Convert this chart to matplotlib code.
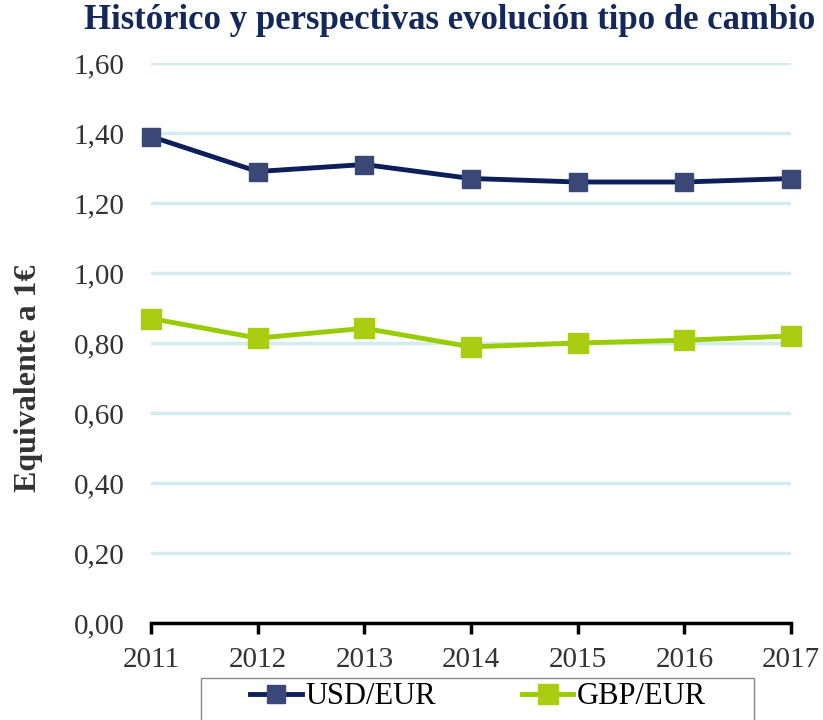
import matplotlib
matplotlib.use("Agg")
import matplotlib.pyplot as plt
from matplotlib.patches import Rectangle

# === Data ===
years = [2011, 2012, 2013, 2014, 2015, 2016, 2017]
usd_eur = [1.39, 1.29, 1.31, 1.27, 1.26, 1.26, 1.27]
gbp_eur = [0.87, 0.814, 0.842, 0.789, 0.80, 0.808, 0.82]
yticks = [0.0, 0.2, 0.4, 0.6, 0.8, 1.0, 1.2, 1.4, 1.6]

plt.rcParams['font.family'] = ['Liberation Serif', 'DejaVu Serif']

fig = plt.figure(figsize=(8.23, 7.2), dpi=100)
ax = fig.add_axes([151/823, 1 - 623/720, 640/823, 560/720])

ax.plot(years, usd_eur, color="#0d1f5a", lw=3.5, marker="s", ms=13,
        mfc="#3a4878", mec="#3a4878", label="USD/EUR", zorder=3, clip_on=False)
ax.plot(years, gbp_eur, color="#99cc00", lw=3.5, marker="s", ms=15,
        mfc="#aacc11", mec="#aacc11", label="GBP/EUR", zorder=3, clip_on=False)

ax.set_xlim(2011, 2017)
ax.set_ylim(0, 1.6)
ax.set_yticks(yticks)
ax.set_yticklabels([f"{v:.2f}".replace(".", ",") for v in yticks])
ax.set_xticks(years)
ax.set_xticklabels([str(y) for y in years])
ax.yaxis.grid(True, color="#d5ebf2", lw=2.5)
ax.set_axisbelow(True)
for s in ["top", "right", "left"]:
    ax.spines[s].set_visible(False)
ax.spines["bottom"].set_linewidth(2.5)
ax.spines["bottom"].set_color("black")
ax.tick_params(axis="y", length=0, labelsize=21, colors="#333333", pad=19)
ax.tick_params(axis="x", length=8, width=2.5, direction="out", labelsize=21,
               colors="black", labelcolor="#333333", pad=9)

ax.set_ylabel("Equivalente a 1€", fontsize=23, fontweight="bold", color="#333333")
ax.yaxis.set_label_coords(-0.168, 0.4375)
fig.text(0.99, 0.972, "Histórico y perspectivas evolución tipo de cambio",
         fontsize=25, fontweight="bold", color="#14285c", ha="right", va="center")

# legend frame runs off the bottom edge, like the original
fig.patches.append(Rectangle((201/823, -0.05), 553/823, 0.05 + 1 - 678/720,
                             transform=fig.transFigure, fill=False,
                             edgecolor="#888888", lw=1))
leg = ax.legend(loc="center", bbox_to_anchor=(478/823, 1 - 697/720),
                bbox_transform=fig.transFigure, ncol=2, frameon=False,
                fontsize=22, handlelength=1.7, handletextpad=0.1,
                columnspacing=2.8, borderpad=0, borderaxespad=0)

fig.savefig("out.png", dpi=100)
